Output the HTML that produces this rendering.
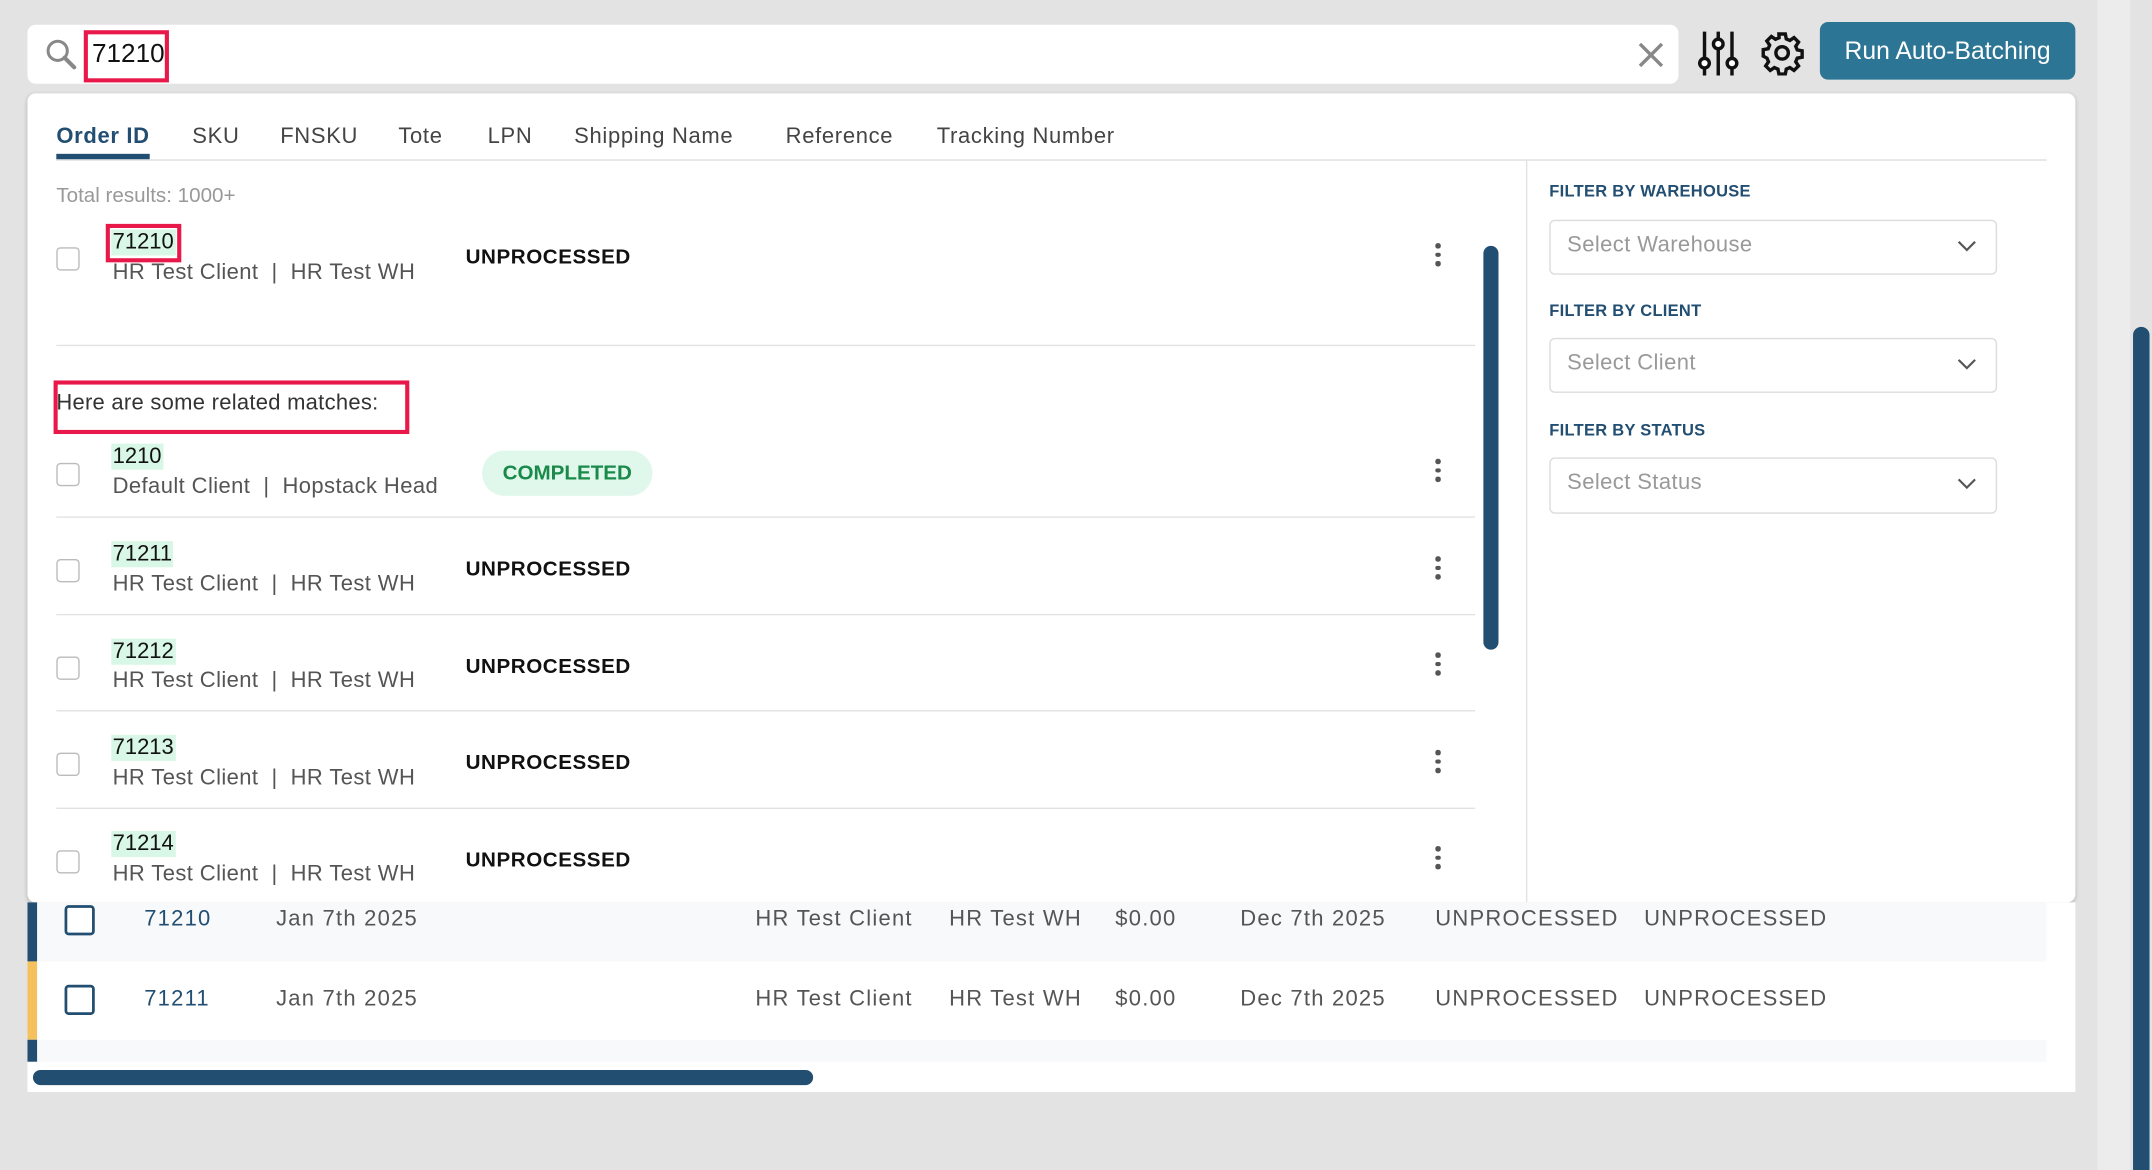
<!DOCTYPE html>
<html><head><meta charset="utf-8"><style>
*{margin:0;padding:0;box-sizing:border-box}
html,body{width:2152px;height:1170px;overflow:hidden;background:#e3e3e3;font-family:"Liberation Sans",sans-serif}
#w{position:absolute;left:0;top:0;width:1565px;height:852px;transform:scale(1.3735);transform-origin:0 0}
.a{position:absolute;white-space:nowrap}
.tab{position:absolute;top:91px;font-size:16px;color:#444;letter-spacing:0.5px}
.cb{position:absolute;width:17px;height:17px;border:1.5px solid #bbb;border-radius:3px;background:#fff}
.id{position:absolute;font-size:16px;color:#111;background:#d9f7e6;padding:0 1px;line-height:19px}
.sub{position:absolute;font-size:16px;color:#555;letter-spacing:0.3px}
.st{position:absolute;font-size:15px;color:#111;font-weight:bold;letter-spacing:0.4px}
.keb{position:absolute;width:4px}
.keb i{display:block;width:3.5px;height:3.5px;background:#555;border-radius:50%;margin-bottom:3px}
.hl{position:absolute;left:41px;width:1033px;height:1px;background:#e2e2e2}
.red{position:absolute;border:3px solid #e8194a}
.lab{position:absolute;left:1128px;font-size:12px;color:#224e72;font-weight:bold;letter-spacing:0.2px}
.sel{position:absolute;left:1128px;width:326px;height:40px;border:1px solid #dcdcdc;border-radius:4px}
.sel span{position:absolute;left:12px;top:9px;font-size:16px;color:#999;letter-spacing:0.3px}
.sel svg{position:absolute;right:14px;top:14px}
.tr{position:absolute;left:20px;width:1470px}
.tt{position:absolute;font-size:16px;color:#555;letter-spacing:0.9px}
.tcb{position:absolute;left:27px;width:22px;height:22px;border:2px solid #224e72;border-radius:3px;background:#fff}
</style></head><body><div id="w">
<div class="a" style="left:1527px;top:0;width:24px;height:852px;background:#ececec"></div>
<div class="a" style="left:1553px;top:238px;width:12px;height:614px;background:#224e72;border-radius:6px 6px 0 0"></div>
<div class="a" style="left:20px;top:18px;width:1202px;height:43px;background:#fff;border-radius:6px"></div>
<svg class="a" style="left:33px;top:28px" width="24" height="24" viewBox="0 0 24 24"><circle cx="9" cy="9" r="7" fill="none" stroke="#888" stroke-width="2.2"/><line x1="14" y1="14" x2="21" y2="21" stroke="#888" stroke-width="3" stroke-linecap="round"/></svg>
<div class="a" style="left:67px;top:29px;font-size:19px;color:#111">71210</div>
<div class="red" style="left:61px;top:22px;width:62px;height:38px"></div>
<svg class="a" style="left:1192px;top:30px" width="20" height="20"><path d="M2 2L18 18M18 2L2 18" stroke="#888" stroke-width="2.5"/></svg>
<svg class="a" style="left:1236px;top:22px" width="30" height="34" viewBox="0 0 30 34"><g stroke="#111" stroke-width="2.5" fill="#fff"><line x1="5" y1="1" x2="5" y2="33"/><line x1="15" y1="1" x2="15" y2="33"/><line x1="25" y1="1" x2="25" y2="33"/><circle cx="5" cy="24" r="3.5"/><circle cx="15" cy="10" r="3.5"/><circle cx="25" cy="24" r="3.5"/></g></svg>
<svg class="a" style="left:1281px;top:22px" width="33" height="33" viewBox="0 0 24 24"><path fill="none" stroke="#111" stroke-width="1.8" d="M10.3 2h3.4l.5 2.6 1.9.8 2.2-1.5 2.4 2.4-1.5 2.2.8 1.9 2.6.5v3.4l-2.6.5-.8 1.9 1.5 2.2-2.4 2.4-2.2-1.5-1.9.8-.5 2.6h-3.4l-.5-2.6-1.9-.8-2.2 1.5-2.4-2.4 1.5-2.2-.8-1.9L2 13.7v-3.4l2.6-.5.8-1.9-1.5-2.2 2.4-2.4 2.2 1.5 1.9-.8z"/><circle cx="12" cy="12" r="3.3" fill="none" stroke="#111" stroke-width="1.8"/></svg>
<div class="a" style="left:1325px;top:16px;width:186px;height:42px;background:#2c7595;border-radius:6px;color:#fff;font-size:18px;text-align:center;line-height:42px">Run Auto-Batching</div>
<div class="a" style="left:20px;top:68px;width:1491px;height:589px;background:#fff;border-radius:6px;box-shadow:0 1px 3px rgba(0,0,0,.2)"></div>
<div class="tab" style="left:41px;color:#224e72;font-weight:bold">Order ID</div>
<div class="a" style="left:41px;top:112px;width:68px;height:4px;background:#224e72"></div>
<div class="tab" style="left:140px">SKU</div>
<div class="tab" style="left:204px">FNSKU</div>
<div class="tab" style="left:290px">Tote</div>
<div class="tab" style="left:355px">LPN</div>
<div class="tab" style="left:418px">Shipping Name</div>
<div class="tab" style="left:572px">Reference</div>
<div class="tab" style="left:682px">Tracking Number</div>
<div class="a" style="left:41px;top:116px;width:1449px;height:1px;background:#ddd"></div>
<div class="a" style="left:1111px;top:117px;width:1px;height:540px;background:#e2e2e2"></div>
<div class="a" style="left:41px;top:134px;font-size:15px;color:#999">Total results: 1000+</div>
<div class="cb" style="left:41px;top:180px"></div>
<div class="id" style="left:81px;top:167px">71210</div>
<div class="red" style="left:77px;top:163px;width:55px;height:28px"></div>
<div class="sub" style="left:82px;top:190px">HR Test Client &nbsp;|&nbsp; HR Test WH</div>
<div class="st" style="left:339px;top:179px">UNPROCESSED</div>
<div class="keb" style="left:1045px;top:177px"><i></i><i></i><i></i></div>
<div class="hl" style="top:251px"></div>
<div class="red" style="left:39px;top:277px;width:259px;height:39px"></div>
<div class="a" style="left:41px;top:285px;font-size:16px;color:#333;letter-spacing:0.2px">Here are some related matches:</div>
<div class="cb" style="left:41px;top:337px"></div>
<div class="id" style="left:81px;top:323px">1210</div>
<div class="sub" style="left:82px;top:346px">Default Client &nbsp;|&nbsp; Hopstack Head</div>
<div class="a" style="left:351px;top:328px;width:124px;height:33px;border-radius:17px;background:#e0f8ec;color:#1a8a4a;font-size:15px;text-align:center;line-height:33px;font-weight:bold">COMPLETED</div>
<div class="keb" style="left:1045px;top:334px"><i></i><i></i><i></i></div>
<div class="hl" style="top:376px"></div>
<div class="cb" style="left:41px;top:407px"></div>
<div class="id" style="left:81px;top:394px">71211</div>
<div class="sub" style="left:82px;top:417px">HR Test Client &nbsp;|&nbsp; HR Test WH</div>
<div class="st" style="left:339px;top:406px">UNPROCESSED</div>
<div class="keb" style="left:1045px;top:405px"><i></i><i></i><i></i></div>
<div class="hl" style="top:447px"></div>
<div class="cb" style="left:41px;top:478px"></div>
<div class="id" style="left:81px;top:465px">71212</div>
<div class="sub" style="left:82px;top:487px">HR Test Client &nbsp;|&nbsp; HR Test WH</div>
<div class="st" style="left:339px;top:477px">UNPROCESSED</div>
<div class="keb" style="left:1045px;top:475px"><i></i><i></i><i></i></div>
<div class="hl" style="top:517px"></div>
<div class="cb" style="left:41px;top:548px"></div>
<div class="id" style="left:81px;top:535px">71213</div>
<div class="sub" style="left:82px;top:558px">HR Test Client &nbsp;|&nbsp; HR Test WH</div>
<div class="st" style="left:339px;top:547px">UNPROCESSED</div>
<div class="keb" style="left:1045px;top:546px"><i></i><i></i><i></i></div>
<div class="hl" style="top:588px"></div>
<div class="cb" style="left:41px;top:619px"></div>
<div class="id" style="left:81px;top:605px">71214</div>
<div class="sub" style="left:82px;top:628px">HR Test Client &nbsp;|&nbsp; HR Test WH</div>
<div class="st" style="left:339px;top:618px">UNPROCESSED</div>
<div class="keb" style="left:1045px;top:616px"><i></i><i></i><i></i></div>
<div class="a" style="left:1080px;top:179px;width:11px;height:294px;background:#224e72;border-radius:6px"></div>
<div class="lab" style="top:132px">FILTER BY WAREHOUSE</div>
<div class="sel" style="top:160px"><span>Select Warehouse</span><svg width="14" height="9"><path d="M1 1l6 6 6-6" fill="none" stroke="#555" stroke-width="1.6"/></svg></div>
<div class="lab" style="top:219px">FILTER BY CLIENT</div>
<div class="sel" style="top:246px"><span>Select Client</span><svg width="14" height="9"><path d="M1 1l6 6 6-6" fill="none" stroke="#555" stroke-width="1.6"/></svg></div>
<div class="lab" style="top:306px">FILTER BY STATUS</div>
<div class="sel" style="top:333px;height:41px"><span>Select Status</span><svg width="14" height="9"><path d="M1 1l6 6 6-6" fill="none" stroke="#555" stroke-width="1.6"/></svg></div>
<div class="a" style="left:20px;top:657px;width:1491px;height:138px;background:#fff"></div>
<div class="tr" style="top:657px;height:43px;background:#f7f9fb;border-left:7px solid #224e72"></div>
<div class="tr" style="top:700px;height:57px;background:#fff;border-left:7px solid #f5c15c"></div>
<div class="tr" style="top:757px;height:16px;background:#f7f9fb;border-left:7px solid #224e72"></div>
<div class="tcb" style="left:47px;top:659px"></div>
<div class="tt" style="left:105px;top:661px;color:#224e72">71210</div>
<div class="tt" style="left:201px;top:661px">Jan 7th 2025</div>
<div class="tt" style="left:550px;top:661px">HR Test Client</div>
<div class="tt" style="left:691px;top:661px">HR Test WH</div>
<div class="tt" style="left:812px;top:661px">$0.00</div>
<div class="tt" style="left:903px;top:661px">Dec 7th 2025</div>
<div class="tt" style="left:1045px;top:661px">UNPROCESSED</div>
<div class="tt" style="left:1197px;top:661px">UNPROCESSED</div>
<div class="tcb" style="left:47px;top:717px"></div>
<div class="tt" style="left:105px;top:719px;color:#224e72">71211</div>
<div class="tt" style="left:201px;top:719px">Jan 7th 2025</div>
<div class="tt" style="left:550px;top:719px">HR Test Client</div>
<div class="tt" style="left:691px;top:719px">HR Test WH</div>
<div class="tt" style="left:812px;top:719px">$0.00</div>
<div class="tt" style="left:903px;top:719px">Dec 7th 2025</div>
<div class="tt" style="left:1045px;top:719px">UNPROCESSED</div>
<div class="tt" style="left:1197px;top:719px">UNPROCESSED</div>
<div class="a" style="left:24px;top:779px;width:568px;height:11px;background:#224e72;border-radius:6px"></div>
</div></body></html>
